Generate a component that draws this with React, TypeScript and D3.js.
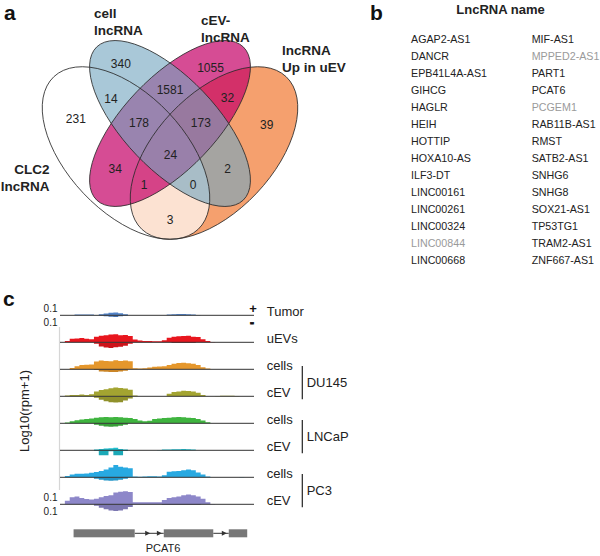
import React from 'react';
import * as d3 from 'd3';

const FONT = "'Liberation Sans', Arial, Helvetica, sans-serif";

// ---------- Panel a: Venn ----------
const vennRegions = ['A', 'B', 'C', 'D', 'AB', 'BC', 'CD', 'AC', 'BD', 'AD', 'ABC', 'BCD', 'ACD', 'ABD', 'ABCD'];
const vennCounts = [231, 340, 1055, 39, 14, 1581, 32, 34, 2, 3, 178, 173, 1, 0, 24];
const vennSetNames = [
  ['CLC2', 'lncRNA'],
  ['cell', 'lncRNA'],
  ['cEV-', 'lncRNA'],
  ['lncRNA', 'Up in uEV'],
];

// ---------- Panel b: list ----------
const lncLeft = ['AGAP2-AS1', 'DANCR', 'EPB41L4A-AS1', 'GIHCG', 'HAGLR', 'HEIH', 'HOTTIP', 'HOXA10-AS', 'ILF3-DT', 'LINC00161', 'LINC00261', 'LINC00324', 'LINC00844', 'LINC00668'];
const lncRight = ['MIF-AS1', 'MPPED2-AS1', 'PART1', 'PCAT6', 'PCGEM1', 'RAB11B-AS1', 'RMST', 'SATB2-AS1', 'SNHG6', 'SNHG8', 'SOX21-AS1', 'TP53TG1', 'TRAM2-AS1', 'ZNF667-AS1'];
const lncGrey = ['LINC00844', 'MPPED2-AS1', 'PCGEM1'];

// ---------- Panel c: coverage tracks (log10(rpm+1) per 50-bp bin) ----------
const binSize = 50;
const geneLength = 2000;

const tumorPlus = [0, 0, 0, 0.01, 0.01, 0.01, 0.01, 0.005, 0.015, 0.025, 0.035, 0.04, 0.03, 0.015, 0, 0, 0, 0, 0, 0, 0, 0, 0.01, 0.015, 0.02, 0.02, 0.015, 0.01, 0.005, 0, 0, 0, 0, 0, 0, 0, 0, 0, 0, 0];
const tumorMinus = [0, 0, 0, 0, 0, 0, 0, 0, 0.005, 0.015, 0.02, 0.025, 0.015, 0.005, 0, 0, 0, 0, 0, 0, 0, 0, 0, 0, 0, 0, 0, 0, 0, 0, 0, 0, 0, 0, 0, 0, 0, 0, 0, 0];
const uevPlus = [0, 0.02, 0.05, 0.055, 0.06, 0.05, 0.045, 0.08, 0.095, 0.1, 0.11, 0.115, 0.1, 0.105, 0.09, 0.04, 0.025, 0.02, 0.02, 0.015, 0.015, 0.03, 0.065, 0.08, 0.085, 0.09, 0.095, 0.08, 0.075, 0.045, 0.02, 0.005, 0, 0, 0, 0, 0, 0, 0, 0];
const uevMinus = [0, 0, 0, 0, 0, 0, 0, 0.02, 0.06, 0.075, 0.08, 0.07, 0.065, 0.05, 0.02, 0, 0, 0, 0, 0, 0, 0, 0, 0.01, 0.01, 0.01, 0.01, 0.01, 0, 0, 0, 0, 0, 0, 0, 0, 0, 0, 0, 0];
const du145CellsPlus = [0, 0, 0.02, 0.045, 0.06, 0.065, 0.07, 0.11, 0.125, 0.12, 0.115, 0.13, 0.12, 0.125, 0.115, 0.015, 0.01, 0.015, 0.025, 0.035, 0.04, 0.045, 0.06, 0.08, 0.09, 0.095, 0.085, 0.08, 0.06, 0.03, 0.01, 0, 0, 0, 0, 0, 0, 0, 0, 0];
const du145CellsMinus = [0, 0, 0, 0, 0, 0, 0, 0.01, 0.03, 0.035, 0.04, 0.04, 0.03, 0.02, 0, 0, 0, 0, 0, 0, 0, 0, 0, 0, 0, 0, 0, 0, 0, 0, 0, 0, 0, 0, 0, 0, 0, 0, 0, 0];
const du145EvPlus = [0, 0.01, 0.02, 0.02, 0.025, 0.02, 0.03, 0.07, 0.09, 0.1, 0.115, 0.125, 0.12, 0.11, 0.095, 0.01, 0, 0, 0, 0, 0, 0, 0.035, 0.06, 0.07, 0.08, 0.075, 0.07, 0.05, 0.02, 0, 0, 0.005, 0.008, 0.008, 0.008, 0.005, 0, 0, 0];
const du145EvMinus = [0, 0, 0, 0, 0, 0, 0, 0.02, 0.05, 0.07, 0.085, 0.09, 0.085, 0.06, 0.03, 0, 0, 0, 0, 0, 0, 0, 0, 0, 0, 0, 0, 0, 0, 0, 0, 0, 0, 0, 0, 0, 0, 0, 0, 0];
const lncapCellsPlus = [0, 0.01, 0.03, 0.045, 0.055, 0.06, 0.07, 0.08, 0.085, 0.09, 0.085, 0.09, 0.085, 0.08, 0.075, 0.06, 0.04, 0.03, 0.035, 0.06, 0.07, 0.075, 0.08, 0.085, 0.09, 0.085, 0.08, 0.075, 0.06, 0.04, 0.015, 0, 0, 0, 0, 0, 0, 0, 0, 0];
const lncapCellsMinus = [0, 0, 0, 0, 0, 0, 0, 0.02, 0.035, 0.045, 0.05, 0.045, 0.035, 0.02, 0, 0, 0, 0, 0, 0, 0, 0, 0, 0, 0, 0, 0, 0, 0, 0, 0, 0, 0, 0, 0, 0, 0, 0, 0, 0];
const lncapEvPlus = [0, 0, 0, 0, 0, 0, 0, 0.01, 0.02, 0.025, 0.03, 0.035, 0.02, 0.01, 0, 0, 0, 0, 0, 0, 0.005, 0.01, 0.01, 0.015, 0.015, 0.02, 0.015, 0.01, 0, 0, 0, 0, 0, 0, 0, 0, 0, 0, 0, 0];
const lncapEvMinus = [0, 0, 0, 0, 0, 0, 0, 0.01, 0.07, 0.07, 0.015, 0.07, 0.07, 0.01, 0, 0, 0, 0, 0, 0, 0, 0, 0, 0, 0, 0, 0, 0, 0, 0, 0, 0, 0, 0, 0, 0, 0, 0, 0, 0];
const pc3CellsPlus = [0, 0.02, 0.04, 0.05, 0.05, 0.055, 0.065, 0.075, 0.09, 0.11, 0.14, 0.175, 0.15, 0.14, 0.13, 0.01, 0.008, 0.01, 0.015, 0.015, 0.01, 0.03, 0.08, 0.085, 0.09, 0.1, 0.11, 0.1, 0.07, 0.04, 0.01, 0, 0, 0, 0, 0, 0, 0.004, 0, 0];
const pc3CellsMinus = [0, 0, 0, 0, 0, 0, 0, 0.02, 0.035, 0.045, 0.05, 0.045, 0.035, 0.02, 0, 0, 0, 0, 0, 0, 0, 0, 0, 0, 0, 0, 0, 0, 0, 0, 0, 0, 0, 0, 0, 0, 0, 0, 0, 0];
const pc3EvPlus = [0, 0.05, 0.1, 0.11, 0.09, 0.075, 0.07, 0.08, 0.1, 0.12, 0.13, 0.17, 0.18, 0.185, 0.175, 0.03, 0.03, 0.03, 0.03, 0.03, 0.03, 0.06, 0.09, 0.1, 0.11, 0.13, 0.14, 0.13, 0.11, 0.08, 0.03, 0.005, 0, 0, 0, 0, 0, 0, 0, 0];
const pc3EvMinus = [0, 0, 0, 0, 0, 0, 0, 0.02, 0.05, 0.07, 0.09, 0.095, 0.09, 0.07, 0.04, 0, 0, 0, 0, 0, 0, 0.01, 0.01, 0.01, 0.01, 0.01, 0.01, 0.01, 0.01, 0, 0, 0, 0, 0, 0, 0, 0, 0, 0, 0];

const trackIds = ['tumor', 'uev', 'du145Cells', 'du145Ev', 'lncapCells', 'lncapEv', 'pc3Cells', 'pc3Ev'];
const trackLabels = ['Tumor', 'uEVs', 'cells', 'cEV', 'cells', 'cEV', 'cells', 'cEV'];
const trackColors = ['#5082c8', '#e8161e', '#e5972c', '#a3a431', '#3fb43f', '#1fbfcf', '#28a9e1', '#8d87c9'];
const trackPlus = [tumorPlus, uevPlus, du145CellsPlus, du145EvPlus, lncapCellsPlus, lncapEvPlus, pc3CellsPlus, pc3EvPlus];
const trackMinus = [tumorMinus, uevMinus, du145CellsMinus, du145EvMinus, lncapCellsMinus, lncapEvMinus, pc3CellsMinus, pc3EvMinus];

const groupNames = ['DU145', 'LNCaP', 'PC3'];
const groupTracks = [['du145Cells', 'du145Ev'], ['lncapCells', 'lncapEv'], ['pc3Cells', 'pc3Ev']];

const strandLabels = ['+', '-'];
const exonStarts = [140, 1070, 1740];
const exonEnds = [770, 1580, 1930];
const intronArrows = [930, 1050, 1720];
const geneName = 'PCAT6';
const axisTickValue = 0.1;

export default function App() {
  // ----- Venn geometry -----
  const ellipses = [
    { key: 'D', cx: 214, cy: 153, rx: 105, ry: 58.6, angle: -46.6, fill: 'rgb(245,160,110)', op: 1 },
    { key: 'A', cx: 126, cy: 153, rx: 105, ry: 58.6, angle: 46.6, fill: '#ffffff', op: 0.69 },
    { key: 'C', cx: 170, cy: 123.5, rx: 106, ry: 46, angle: -46.3, fill: 'rgb(196,0,102)', op: 0.7 },
    { key: 'B', cx: 170, cy: 123.5, rx: 106, ry: 46, angle: 46.3, fill: 'rgb(116,166,192)', op: 0.62 },
  ];
  const regionPos: Record<string, [number, number]> = {
    A: [75.8, 119.2], B: [120.8, 64], C: [210.5, 67.5], D: [266.7, 125],
    AB: [111, 99], BC: [170, 90], CD: [227.5, 98.3], AC: [115.3, 169.2], BD: [227.7, 169.2], AD: [170, 220],
    ABC: [139, 122.8], BCD: [200.8, 122.8], ACD: [144, 185], ABD: [193, 185], ABCD: [170.5, 154.7],
  };
  const setLabelPos = [
    { x: 49.5, y: 174, anchor: 'end' },
    { x: 94, y: 18.3, anchor: 'start' },
    { x: 201, y: 25, anchor: 'start' },
    { x: 282, y: 55, anchor: 'start' },
  ];

  // ----- tracks -----
  const x = d3.scaleLinear().domain([0, geneLength]).range([60, 254]);
  const yTrack = d3.scalePoint<string>().domain(trackIds).range([315.3, 504.3]);
  const h = d3.scaleLinear().domain([0, 0.1]).range([0, 7]);

  const toPts = (vals: number[]) => {
    const pts: [number, number][] = vals.map((v, i) => [i * binSize, v]);
    pts.push([vals.length * binSize, vals[vals.length - 1]]);
    return pts;
  };
  const areaPlus = (base: number) =>
    d3.area<[number, number]>().x(d => x(d[0])).y0(base).y1(d => base - h(d[1])).curve(d3.curveStepAfter);
  const areaMinus = (base: number) =>
    d3.area<[number, number]>().x(d => x(d[0])).y0(base).y1(d => base + h(d[1])).curve(d3.curveStepAfter);

  const tickTracks = ['tumor', 'pc3Ev'];
  const geneY = 529.3;
  const geneH = 8;
  const geneMid = geneY + geneH / 2;
  const tumorBase = yTrack('tumor') as number;

  return (
    <svg width={600} height={556} style={{ position: 'absolute', left: 0, top: 0, background: '#fff' }} fontFamily={FONT}>
      <rect x={0} y={0} width={600} height={556} fill="#fff" />
      {/* panel letters */}
      <text x={4} y={20} fontSize={21} fontWeight="bold" fill="#111">a</text>
      <text x={370} y={20} fontSize={21} fontWeight="bold" fill="#111">b</text>
      <text x={3} y={306} fontSize={21} fontWeight="bold" fill="#111">c</text>

      {/* ---- Venn ---- */}
      <g>
        {ellipses.map(e => (
          <ellipse key={'f' + e.key} cx={e.cx} cy={e.cy} rx={e.rx} ry={e.ry}
            transform={`rotate(${e.angle} ${e.cx} ${e.cy})`} fill={e.fill} fillOpacity={e.op} stroke="none" />
        ))}
        {ellipses.map(e => (
          <ellipse key={'s' + e.key} cx={e.cx} cy={e.cy} rx={e.rx} ry={e.ry}
            transform={`rotate(${e.angle} ${e.cx} ${e.cy})`} fill="none" stroke="#2a2a2a" strokeWidth={0.8} />
        ))}
        {vennRegions.map((r, i) => (
          <text key={r} x={regionPos[r][0]} y={regionPos[r][1]} textAnchor="middle" dominantBaseline="central"
            fontSize={12} fill="#222">{vennCounts[i]}</text>
        ))}
        {vennSetNames.map((lines, i) => (
          <text key={i} x={setLabelPos[i].x} y={setLabelPos[i].y} textAnchor={setLabelPos[i].anchor as any}
            fontSize={13.5} fontWeight="bold" fill="#222">
            {lines.map((l, j) => (
              <tspan key={j} x={setLabelPos[i].x} dy={j === 0 ? 0 : 16.6}>{l}</tspan>
            ))}
          </text>
        ))}
      </g>

      {/* ---- list ---- */}
      <g>
        <text x={500.5} y={14} textAnchor="middle" fontSize={13} fontWeight="bold" fill="#222">LncRNA name</text>
        {lncLeft.map((n, i) => (
          <text key={'l' + n} x={411} y={42.6 + i * 17.02} fontSize={10.7}
            fill={lncGrey.includes(n) ? '#9a9a9a' : '#222'}>{n}</text>
        ))}
        {lncRight.map((n, i) => (
          <text key={'r' + n} x={531.7} y={42.6 + i * 17.02} fontSize={10.7}
            fill={lncGrey.includes(n) ? '#9a9a9a' : '#222'}>{n}</text>
        ))}
      </g>

      {/* ---- tracks ---- */}
      <g>
        <line x1={59.5} x2={59.5} y1={327} y2={490} stroke="#d6d6d6" strokeWidth={1.2} />
        {trackIds.map((id, i) => {
          const base = yTrack(id) as number;
          const col = trackColors[i];
          const dark = (d3.color(col) as d3.RGBColor).darker(0.35).formatHex();
          return (
            <g key={id}>
              <path d={areaPlus(base)(toPts(trackPlus[i])) as string} fill={col} />
              <path d={areaMinus(base)(toPts(trackMinus[i])) as string} fill={dark} />
              <line x1={x(0)} x2={x(geneLength)} y1={base} y2={base} stroke="#333" strokeWidth={1} />
              <text x={266.7} y={base + 1} fontSize={13} fill="#222">{trackLabels[i]}</text>
            </g>
          );
        })}
        {tickTracks.map(id => {
          const base = yTrack(id) as number;
          return (
            <g key={'t' + id}>
              <text x={57.5} y={base - h(axisTickValue)} textAnchor="end" dominantBaseline="central" fontSize={10} fill="#222">{axisTickValue}</text>
              <text x={57.5} y={base + h(axisTickValue)} textAnchor="end" dominantBaseline="central" fontSize={10} fill="#222">{axisTickValue}</text>
            </g>
          );
        })}
        <text x={253} y={tumorBase - 2.3} textAnchor="middle" fontSize={13} fontWeight="bold" fill="#111">{strandLabels[0]}</text>
        <text x={252} y={tumorBase + 11.5} textAnchor="middle" fontSize={12} fontWeight="bold" fill="#111"
          stroke="#111" strokeWidth={0.8}>{strandLabels[1]}</text>
        <text transform="translate(29,411) rotate(-90)" textAnchor="middle" fontSize={13} fill="#222">Log10(rpm+1)</text>
        {groupNames.map((g, i) => {
          const y1 = (yTrack(groupTracks[i][0]) as number) - 3.3;
          const y2 = (yTrack(groupTracks[i][1]) as number) + 3;
          return (
            <g key={g}>
              <line x1={302.3} x2={302.3} y1={y1} y2={y2} stroke="#222" strokeWidth={1.2} />
              <text x={306.7} y={(y1 + y2) / 2 + 4.5} fontSize={13} fill="#222">{g}</text>
            </g>
          );
        })}
        {/* gene model */}
        {exonStarts.slice(0, -1).map((s, i) => (
          <line key={'in' + i} x1={x(exonEnds[i])} x2={x(exonStarts[i + 1])} y1={geneMid} y2={geneMid} stroke="#333" strokeWidth={1} />
        ))}
        {intronArrows.map(a => (
          <path key={'ar' + a} d={`M${x(a)},${geneMid} l-5,-2.5 l0,5 z`} fill="#333" />
        ))}
        {exonStarts.map((s, i) => (
          <rect key={'ex' + i} x={x(s)} y={geneY} width={x(exonEnds[i]) - x(s)} height={geneH} fill="#777" />
        ))}
        <text x={163} y={552.3} textAnchor="middle" fontSize={11} fill="#222">{geneName}</text>
      </g>
    </svg>
  );
}
